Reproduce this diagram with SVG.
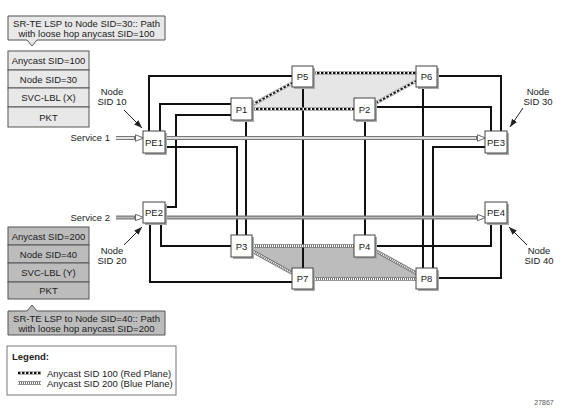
<svg xmlns="http://www.w3.org/2000/svg" width="561" height="413" viewBox="0 0 561 413">
<style>
text{font-family:"Liberation Sans",Arial,sans-serif;fill:#222;}
.t{font-size:9.5px;}
.c{text-anchor:middle;}
.r{text-anchor:end;}
.lk{fill:none;stroke:#111;stroke-width:2;}
.nb{fill:#fff;stroke:#444;stroke-width:1;}
.sh{fill:#aaa;}
.redO{fill:none;stroke:#999;stroke-width:3.6;}
.redI{fill:none;stroke:#fff;stroke-width:2.2;}
.redD{fill:none;stroke:#111;stroke-width:1.8;stroke-dasharray:2.5 1.5;}
.bluO{fill:none;stroke:#777;stroke-width:3.6;}
.bluD{fill:none;stroke:#fff;stroke-width:1.8;stroke-dasharray:1 1;}
.sO{fill:none;stroke:#777;stroke-width:4;}
.sI1{fill:none;stroke:#fff;stroke-width:1.6;}
.sI2{fill:none;stroke:#bbb;stroke-width:1.6;}
.lbl{fill:#e8e8e8;stroke:#555;stroke-width:1;}
.lblB{fill:#bcbcbc;stroke:#555;stroke-width:1;}
.pt{fill:none;stroke:#222;stroke-width:1;}
</style>
<defs>
<marker id="open" viewBox="0 0 9 8" refX="0" refY="4" markerWidth="9" markerHeight="8" markerUnits="userSpaceOnUse" orient="auto">
<path d="M0.5,0.8 L8.5,4 L0.5,7.2 Z" fill="#fff" stroke="#666" stroke-width="1"/>
</marker>
<marker id="blk" viewBox="0 0 8 6" refX="8" refY="3" markerWidth="8" markerHeight="6" markerUnits="userSpaceOnUse" orient="auto">
<path d="M0,0 L8,3 L0,6 Z" fill="#222"/>
</marker>
</defs>
<rect width="561" height="413" fill="#fff"/>

<!-- plane fills -->
<polygon points="252,109 252,105 292,82 292,73 416,73 416,81 376,103 376,109" fill="#e6e6e6"/>
<polygon points="252,246 376,246 376,251 416,273 416,279 292,279 292,273 252,251" fill="#bcbcbc"/>

<g id="connectors">
<!-- links -->
<path class="lk" d="M149,131 V76 H292"/>
<path class="lk" d="M160,131 V104 H231"/>
<path class="lk" d="M165,147 H237 V235"/>
<path class="lk" d="M231,115 H176 V207 H165"/>
<path class="lk" d="M246,120 V235"/>
<path class="lk" d="M303,87 V268"/>
<path class="lk" d="M365,120 V235"/>
<path class="lk" d="M423,87 V268"/>
<path class="lk" d="M485,147 H433 V268"/>
<path class="lk" d="M437,76 H501 V131"/>
<path class="lk" d="M376,107 H491 V131"/>
<path class="lk" d="M161,224 V246 H231"/>
<path class="lk" d="M150,224 V282 H292"/>
<path class="lk" d="M376,246 H491 V224"/>
<path class="lk" d="M437,278 H501 V224"/>
<!-- red plane -->
<path class="redO" d="M313,73 H416 M252,109 H354 M252,105 L292,83 M376,103 L416,81"/>
<path class="redI" d="M313,73 H416 M252,109 H354 M252,105 L292,83 M376,103 L416,81"/>
<path class="redD" d="M313,73 H416 M252,109 H354 M252,105 L292,83 M376,103 L416,81"/>
<!-- blue plane -->
<path class="bluO" d="M252,246 H354 M313,279 H416 M252,251 L292,273 M376,251 L416,273"/>
<path class="bluD" d="M252,246 H354 M313,279 H416 M252,251 L292,273 M376,251 L416,273"/>
<!-- services -->
<path class="sO" d="M116,138 H135" marker-end="url(#open)"/>
<path class="sI1" d="M116,138 H134"/>
<path class="sO" d="M165,138 H477" marker-end="url(#open)"/>
<path class="sI1" d="M165,138 H476"/>
<path class="sO" d="M116,217.5 H135" marker-end="url(#open)"/>
<path class="sI2" d="M116,217.5 H134"/>
<path class="sO" d="M165,217.5 H477" marker-end="url(#open)"/>
<path class="sI2" d="M165,217.5 H476"/>
<!-- node SID pointers -->
<path class="pt" d="M124,110 L142,128" marker-end="url(#blk)"/>
<path class="pt" d="M523,108 L510,127" marker-end="url(#blk)"/>
<path class="pt" d="M124,245 L142,227" marker-end="url(#blk)"/>
<path class="pt" d="M527,245 L509,227" marker-end="url(#blk)"/>
</g>

<g id="PE1"><rect class="sh" x="145" y="133" width="22" height="22"/><rect class="nb" x="143" y="131" width="22" height="22"/><text class="t c" x="154" y="145.5">PE1</text></g>
<g id="PE2"><rect class="sh" x="145" y="204" width="22" height="21"/><rect class="nb" x="143" y="202" width="22" height="21"/><text class="t c" x="154" y="216">PE2</text></g>
<g id="PE3"><rect class="sh" x="487" y="133" width="22" height="22"/><rect class="nb" x="485" y="131" width="22" height="22"/><text class="t c" x="496" y="145.5">PE3</text></g>
<g id="PE4"><rect class="sh" x="487" y="204" width="22" height="21"/><rect class="nb" x="485" y="202" width="22" height="21"/><text class="t c" x="496" y="216">PE4</text></g>
<g id="P1"><rect class="sh" x="233" y="100" width="21" height="22"/><rect class="nb" x="231" y="98" width="21" height="22"/><text class="t c" x="241.5" y="112.5">P1</text></g>
<g id="P2"><rect class="sh" x="356" y="100" width="21" height="22"/><rect class="nb" x="354" y="98" width="21" height="22"/><text class="t c" x="364.5" y="112.5">P2</text></g>
<g id="P3"><rect class="sh" x="233" y="237" width="21" height="22"/><rect class="nb" x="231" y="235" width="21" height="22"/><text class="t c" x="241.5" y="249.5">P3</text></g>
<g id="P4"><rect class="sh" x="356" y="237" width="21" height="22"/><rect class="nb" x="354" y="235" width="21" height="22"/><text class="t c" x="364.5" y="249.5">P4</text></g>
<g id="P5"><rect class="sh" x="294" y="68" width="21" height="21"/><rect class="nb" x="292" y="66" width="21" height="21"/><text class="t c" x="302.5" y="80">P5</text></g>
<g id="P6"><rect class="sh" x="418" y="68" width="21" height="21"/><rect class="nb" x="416" y="66" width="21" height="21"/><text class="t c" x="426.5" y="80">P6</text></g>
<g id="P7"><rect class="sh" x="294" y="270" width="21" height="21"/><rect class="nb" x="292" y="268" width="21" height="21"/><text class="t c" x="302.5" y="282">P7</text></g>
<g id="P8"><rect class="sh" x="418" y="270" width="21" height="21"/><rect class="nb" x="416" y="268" width="21" height="21"/><text class="t c" x="426.5" y="282">P8</text></g>

<g id="labels">
<text class="t c" x="112" y="95">Node</text><text class="t c" x="112" y="105">SID 10</text>
<text class="t c" x="538" y="95">Node</text><text class="t c" x="538" y="105">SID 30</text>
<text class="t c" x="112" y="254">Node</text><text class="t c" x="112" y="264">SID 20</text>
<text class="t c" x="539" y="254">Node</text><text class="t c" x="539" y="264">SID 40</text>
<text class="t r" x="110" y="141">Service 1</text>
<text class="t r" x="110" y="220.5">Service 2</text>
</g>

<g id="callout-top">
<path class="lbl" d="M8,16 H165 V40 H37 L32,46 L27,40 H8 Z"/>
<text class="t c" x="86.5" y="26.5">SR-TE LSP to Node SID=30:: Path</text>
<text class="t c" x="86.5" y="36.5">with loose hop anycast SID=100</text>
</g>
<g id="stack-top">
<rect class="lbl" x="8" y="51" width="81" height="19"/>
<rect class="lbl" x="8" y="70" width="81" height="18"/>
<rect class="lbl" x="8" y="88" width="81" height="19"/>
<rect class="lbl" x="8" y="107" width="81" height="20"/>
<text class="t c" x="48.5" y="64">Anycast SID=100</text>
<text class="t c" x="48.5" y="82.5">Node SID=30</text>
<text class="t c" x="48.5" y="101">SVC-LBL (X)</text>
<text class="t c" x="48.5" y="120.5">PKT</text>
</g>
<g id="stack-bottom">
<rect class="lblB" x="8" y="227" width="81" height="18"/>
<rect class="lblB" x="8" y="245" width="81" height="18"/>
<rect class="lblB" x="8" y="263" width="81" height="19"/>
<rect class="lblB" x="8" y="282" width="81" height="17"/>
<text class="t c" x="48.5" y="239.5">Anycast SID=200</text>
<text class="t c" x="48.5" y="257.5">Node SID=40</text>
<text class="t c" x="48.5" y="276">SVC-LBL (Y)</text>
<text class="t c" x="48.5" y="294">PKT</text>
</g>
<g id="callout-bottom">
<path class="lblB" d="M8,311 H27 L32,305 L37,311 H165 V335 H8 Z"/>
<text class="t c" x="86.5" y="321.5">SR-TE LSP to Node SID=40:: Path</text>
<text class="t c" x="86.5" y="331.5">with loose hop anycast SID=200</text>
</g>

<g id="legend">
<rect x="7" y="346" width="169" height="49" fill="#fff" stroke="#777" stroke-width="1"/>
<text x="12" y="360" style="font-size:9.5px;font-weight:bold">Legend:</text>
<path class="redO" d="M18,373 H41"/><path class="redI" d="M18,373 H41"/><path class="redD" d="M18,373 H41"/>
<path class="bluO" d="M18,383 H41"/><path class="bluD" d="M18,383 H41"/>
<text class="t" x="47" y="376.5">Anycast SID 100 (Red Plane)</text>
<text class="t" x="47" y="386.5">Anycast SID 200 (Blue Plane)</text>
</g>
<text x="544" y="405" style="font-size:7px;fill:#555" class="c">27867</text>
</svg>
